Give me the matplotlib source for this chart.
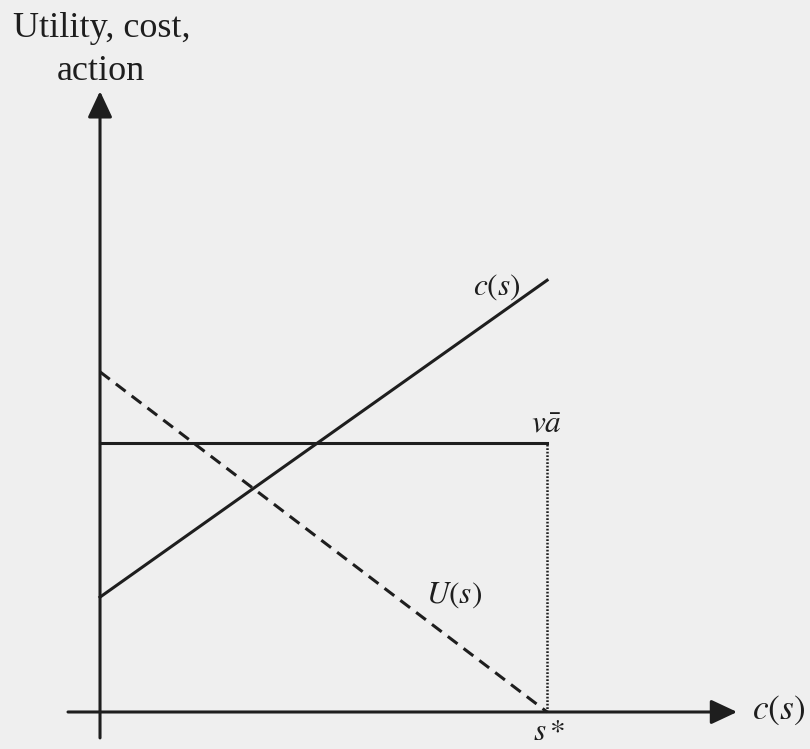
import numpy as np
import matplotlib.pyplot as plt

plt.rcParams['font.family'] = ['Liberation Serif', 'DejaVu Serif']
plt.rcParams['mathtext.fontset'] = 'stix'

# Schematic values (units: s* = 1)
s_star = 1.0
va_level = 0.602          # v * a-bar
c_start, c_end = 0.257, 0.966   # cost c(s) at s=0 and s=s*
u_start, u_end = 0.761, 0.0     # utility U(s) at s=0 and s=s*

ink = '#1e1e1e'
bg = '#efefef'

fig = plt.figure(figsize=(8.1, 7.49), dpi=100)
fig.patch.set_facecolor(bg)
ax = fig.add_axes([0, 0, 1, 1])
ax.set_facecolor(bg)
ax.set_xlim(-0.2237, 1.588)
ax.set_ylim(-0.0828, 1.593)
ax.axis('off')

# axes with arrows
arrow = dict(arrowstyle='-|>,head_length=1.6,head_width=0.75', color=ink, lw=2.2,
             shrinkA=0, shrinkB=0)
ax.annotate('', xy=(1.425, 0), xytext=(-0.0716, 0), arrowprops=arrow)
ax.annotate('', xy=(0, 1.389), xytext=(0, -0.058), arrowprops=arrow)

s = np.array([0, s_star])
ax.plot(s, [c_start, c_end], color=ink, lw=2.2)
ax.plot(s, [va_level, va_level], color=ink, lw=2.2)
ax.plot(s, [u_start, u_end], color=ink, lw=2.2, ls=(0, (4, 2.5)))
ax.plot([s_star, s_star], [0, va_level], color=ink, lw=1.8, ls=(0, (0.7, 0.7)))

fs = 22.5
ax.text(0.888, 0.951, r'$c(s)$', fontsize=fs, ha='center', va='center', color=ink)
ax.text(0.998, 0.642, r'$v\bar{a}$', fontsize=fs, ha='center', va='center', color=ink)
ax.text(0.792, 0.262, r'$U(s)$', fontsize=fs, ha='center', va='center', color=ink)
ax.text(1.004, -0.047, r'$s*$', fontsize=fs, ha='center', va='center', color=ink)
ax.text(1.459, 0.004, r'$c(s)$', fontsize=25.5, ha='left', va='center', color=ink)
ax.text(0.004, 1.510, 'Utility, cost,', fontsize=26, ha='center', va='baseline', color=ink)
ax.text(0.002, 1.414, 'action', fontsize=26, ha='center', va='baseline', color=ink)

fig.savefig('out.png', dpi=100, facecolor=bg)
